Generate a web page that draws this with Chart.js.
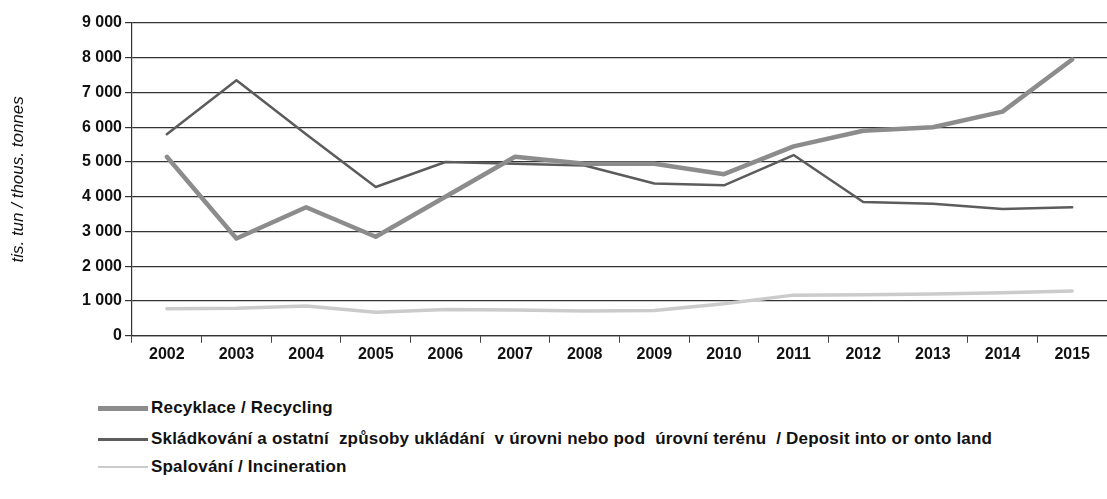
<!DOCTYPE html>
<html>
<head>
<meta charset="utf-8">
<script src="https://cdn.jsdelivr.net/npm/chart.js@4"></script>
<style>
  body { margin: 0; background: #fff; }
  #wrap { position: relative; width: 1107px; height: 366px; }
  #legend { margin: 0; padding: 0; list-style: none; font: bold 17px "Liberation Sans", Arial, sans-serif; color: #111; white-space: pre; letter-spacing: 0.2px; }
  #legend li { position: absolute; left: 98px; height: 20px; display: flex; align-items: center; }
  #legend .swatch { width: 50px; margin-right: 3px; }
</style>
</head>
<body>
<div id="wrap"><canvas id="odpady"></canvas></div>
<ul id="legend"></ul>
<script>
const roky = ['2002', '2003', '2004', '2005', '2006', '2007', '2008', '2009', '2010', '2011', '2012', '2013', '2014', '2015'];
const recyklace = [5150, 2800, 3700, 2850, 4000, 5150, 4950, 4950, 4650, 5450, 5900, 6000, 6450, 7950];
const skladkovani = [5800, 7350, 5800, 4280, 5000, 4950, 4900, 4380, 4330, 5200, 3850, 3800, 3650, 3700];
const spalovani = [780, 790, 860, 680, 760, 740, 710, 730, 920, 1170, 1180, 1200, 1240, 1290];
const yTicks = [0, 1000, 2000, 3000, 4000, 5000, 6000, 7000, 8000, 9000];

const pismo = '"Liberation Sans", Arial, sans-serif';

function tisice(v) {
  // 9000 -> "9 000"
  return v >= 1000 ? Math.floor(v / 1000) + ' ' + String(v % 1000).padStart(3, '0') : String(v);
}

const ctx = document.getElementById('odpady');

const chart = new Chart(ctx, {
    type: 'line',
    data: {
        labels: roky,
        datasets: [{
                label: 'Recyklace / Recycling',
                data: recyklace,
                borderColor: '#8c8c8c',
                borderWidth: 4.5,
                sample: 5
            },
            {
                label: 'Skládkování a ostatní  způsoby ukládání  v úrovni nebo pod  úrovní terénu  / Deposit into or onto land',
                data: skladkovani,
                borderColor: '#5c5c5c',
                borderWidth: 2.5,
                sample: 3
            },
            {
                label: 'Spalování / Incineration',
                data: spalovani,
                borderColor: '#cbcbcb',
                borderWidth: 3.5,
                sample: 2
            },
        ]
    },
    options: {
    responsive: true,
    maintainAspectRatio: false,
    animation: false,
    layout: { padding: { top: 23, right: 0, left: 0, bottom: 0 } },
    elements: {
        point: { radius: 0 },
        line: { tension: 0, borderCapStyle: 'round', borderJoinStyle: 'round' }
    },
    plugins: {
        legend: { display: false },
        tooltip: { enabled: false }
    },
    scales: {
        x: {
        offset: true,
        grid: { offset: true, drawOnChartArea: false, color: '#444', tickLength: 7 },
        border: { color: '#333', width: 1.2 },
        ticks: { color: '#111', font: { family: pismo, size: 16, weight: 'bold' }, padding: 2, maxRotation: 0 }
        },
        y: {
        min: 0,
        max: 9000,
        afterFit: (s) => { s.width = 132; },
        afterBuildTicks: (s) => { s.ticks = yTicks.map(v => ({ value: v })); },
        grid: { color: '#333', lineWidth: 1.2, tickLength: 7 },
        border: { color: '#333', width: 1.2 },
        ticks: { color: '#111', font: { family: pismo, size: 16, weight: 'bold' }, padding: 3, callback: (v) => tisice(v) },
        title: { display: true, text: 'tis. tun / thous. tonnes', color: '#111', font: { family: pismo, size: 17, style: 'italic' }, padding: { top: 8, bottom: 9 } }
        }
    }
    }
});

// legenda pod grafem, položky pod sebou
const legenda = document.getElementById('legend');
const radky = [398, 429, 457];
chart.data.datasets.forEach((ds, i) => {
  const li = document.createElement('li');
  li.style.top = radky[i] + 'px';
  const vzor = document.createElement('span');
  vzor.className = 'swatch';
  vzor.style.height = ds.sample + 'px';
  vzor.style.background = ds.borderColor;
  li.appendChild(vzor);
  li.appendChild(document.createTextNode(ds.label));
  legenda.appendChild(li);
});
</script>
</body>
</html>
